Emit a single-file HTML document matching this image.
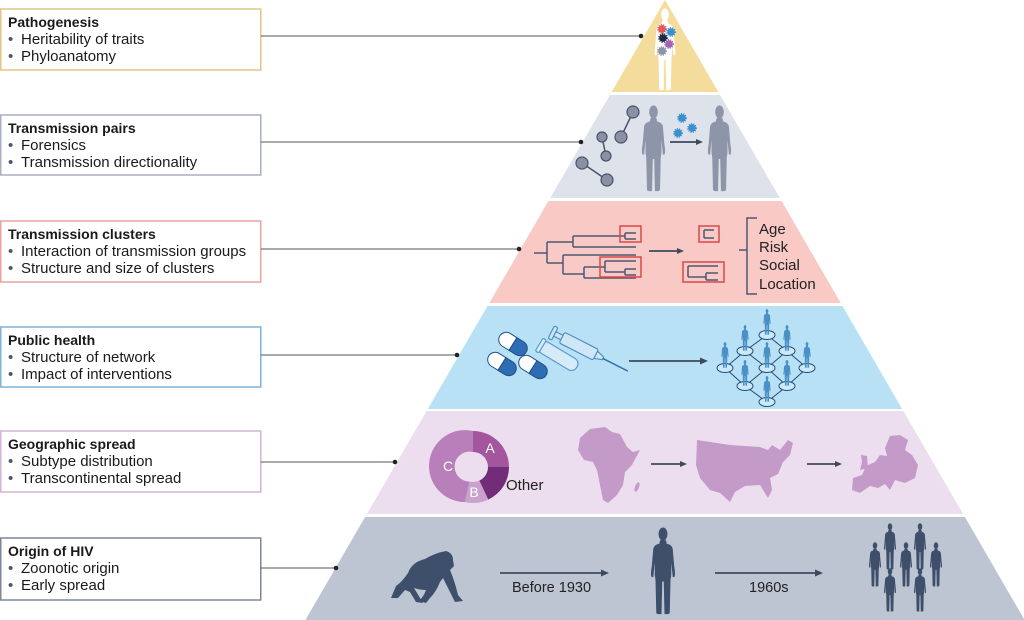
<!DOCTYPE html>
<html><head><meta charset="utf-8"><style>
html,body{margin:0;padding:0;background:#fff;}
svg{display:block;}
text{font-family:"Liberation Sans",Arial,sans-serif;}
</style></head><body>
<svg width="1024" height="620" viewBox="0 0 1024 620" xmlns="http://www.w3.org/2000/svg">
<defs>
<symbol id="p" viewBox="0 0 40 100" preserveAspectRatio="none">
<ellipse cx="20" cy="8" rx="6" ry="7.5"/>
<path d="M16 15 L24 15 L25 19 Q32 20 33 25 L35 45 Q37 55 35 57 L33 57 L31 40 L31 55 L30 60 L29 97 Q29 99 26 99 L22 99 L21 62 L19 62 L18 99 L14 99 Q11 99 11 97 L10 60 L9 55 L9 40 L7 57 L5 57 Q3 55 5 45 L7 25 Q8 20 15 19 Z"/>
</symbol>
</defs>

<!-- Boxes -->
<g font-size="15" fill="#1a1a1a">
<rect x="0.75" y="9" width="260" height="61" fill="#fff" stroke="#e2c585" stroke-width="1.5"/>
<text x="8" y="27" font-weight="bold" font-size="14">Pathogenesis</text>
<text x="8" y="44"><tspan fill="#4a5670">•</tspan><tspan x="21">Heritability of traits</tspan></text>
<text x="8" y="61"><tspan fill="#4a5670">•</tspan><tspan x="21">Phyloanatomy</tspan></text>

<rect x="0.75" y="115" width="260" height="60" fill="#fff" stroke="#a9afc2" stroke-width="1.5"/>
<text x="8" y="133" font-weight="bold" font-size="14">Transmission pairs</text>
<text x="8" y="150"><tspan fill="#4a5670">•</tspan><tspan x="21">Forensics</tspan></text>
<text x="8" y="167"><tspan fill="#4a5670">•</tspan><tspan x="21">Transmission directionality</tspan></text>

<rect x="0.75" y="221" width="260" height="61" fill="#fff" stroke="#e8a3a3" stroke-width="1.5"/>
<text x="8" y="239" font-weight="bold" font-size="14">Transmission clusters</text>
<text x="8" y="256"><tspan fill="#4a5670">•</tspan><tspan x="21">Interaction of transmission groups</tspan></text>
<text x="8" y="273"><tspan fill="#4a5670">•</tspan><tspan x="21">Structure and size of clusters</tspan></text>

<rect x="0.75" y="327" width="260" height="60" fill="#fff" stroke="#7fb3d9" stroke-width="1.5"/>
<text x="8" y="345" font-weight="bold" font-size="14">Public health</text>
<text x="8" y="362"><tspan fill="#4a5670">•</tspan><tspan x="21">Structure of network</tspan></text>
<text x="8" y="379"><tspan fill="#4a5670">•</tspan><tspan x="21">Impact of interventions</tspan></text>

<rect x="0.75" y="431" width="260" height="61" fill="#fff" stroke="#d3b2d6" stroke-width="1.5"/>
<text x="8" y="449" font-weight="bold" font-size="14">Geographic spread</text>
<text x="8" y="466"><tspan fill="#4a5670">•</tspan><tspan x="21">Subtype distribution</tspan></text>
<text x="8" y="483"><tspan fill="#4a5670">•</tspan><tspan x="21">Transcontinental spread</tspan></text>

<rect x="0.75" y="538" width="260" height="62" fill="#fff" stroke="#7d879a" stroke-width="1.5"/>
<text x="8" y="556" font-weight="bold" font-size="14">Origin of HIV</text>
<text x="8" y="573"><tspan fill="#4a5670">•</tspan><tspan x="21">Zoonotic origin</tspan></text>
<text x="8" y="590"><tspan fill="#4a5670">•</tspan><tspan x="21">Early spread</tspan></text>
</g>

<!-- Pyramid layers -->
<polygon points="665,0 718.4,92 611.6,92" fill="#f3dc9c"/>
<polygon points="609.9,95 720.1,95 779.8,198 550.2,198" fill="#dee2eb"/>
<polygon points="548.4,201 781.6,201 840.7,303 489.3,303" fill="#f8c9c5"/>
<polygon points="487.5,306 842.5,306 902.2,409 427.8,409" fill="#b9e1f6"/>
<polygon points="426.6,411 903.4,411 963.1,514 366.9,514" fill="#ecdeee"/>
<polygon points="365.1,517 964.9,517 1024.6,620 305.4,620" fill="#bdc5d2"/>

<!-- Connectors -->
<g stroke="#555" stroke-width="1">
<line x1="261" y1="36" x2="641" y2="36"/>
<line x1="261" y1="142" x2="581" y2="142"/>
<line x1="261" y1="249" x2="519" y2="249"/>
<line x1="261" y1="355" x2="457" y2="355"/>
<line x1="261" y1="462" x2="395" y2="462"/>
<line x1="261" y1="568" x2="336" y2="568"/>
</g>
<g fill="#222">
<circle cx="641" cy="36" r="2.3"/>
<circle cx="581" cy="142" r="2.3"/>
<circle cx="519" cy="249" r="2.3"/>
<circle cx="457" cy="355" r="2.3"/>
<circle cx="395" cy="462" r="2.3"/>
<circle cx="336" cy="568" r="2.3"/>
</g>

<!-- L1: pathogenesis -->
<use href="#p" x="652" y="8" width="26" height="83" fill="#fff"/>
<g stroke-width="2.2" stroke-dasharray="1 1.1">
<circle cx="662" cy="29" r="3.8" fill="#e05a5a" stroke="#e05a5a"/>
<circle cx="671" cy="32" r="3.8" fill="#3a8fd0" stroke="#3a8fd0"/>
<circle cx="663" cy="38" r="3.8" fill="#1f2a44" stroke="#1f2a44"/>
<circle cx="669" cy="44" r="3.8" fill="#a066b0" stroke="#a066b0"/>
<circle cx="662" cy="51" r="3.8" fill="#8a93a8" stroke="#8a93a8"/>
</g>

<!-- L2: transmission pairs -->
<g stroke="#4a5268" stroke-width="1.5">
<line x1="633" y1="112" x2="621" y2="137"/>
<line x1="602" y1="137" x2="606" y2="156"/>
<line x1="582" y1="163" x2="607" y2="180"/>
</g>
<g fill="#8a91a5" stroke="#4a5268" stroke-width="1.2">
<circle cx="633" cy="112" r="6"/>
<circle cx="621" cy="137" r="6"/>
<circle cx="602" cy="137" r="5"/>
<circle cx="606" cy="156" r="5"/>
<circle cx="582" cy="163" r="6"/>
<circle cx="607" cy="180" r="6"/>
</g>
<use href="#p" x="639" y="105" width="29" height="87" fill="#8e95a8"/>
<use href="#p" x="705" y="105" width="29" height="87" fill="#8e95a8"/>
<line x1="670" y1="142" x2="697" y2="142" stroke="#3d4a5e" stroke-width="1.8"/>
<polygon points="703,142 696,139 696,145" fill="#3d4a5e"/>
<g stroke-width="2.2" stroke-dasharray="1 1.1" fill="#3a8fd0" stroke="#3a8fd0">
<circle cx="682" cy="118" r="3.8"/>
<circle cx="692" cy="128" r="3.8"/>
<circle cx="678" cy="133" r="3.8"/>
</g>

<!-- L3: clusters -->
<g stroke="#4b5872" stroke-width="1.5" fill="none">
<path d="M534 253 H547 M547 242 V263 M547 242 H573 M573 236 V247 M573 236 H625 M573 247 H636 M625 233 V239 M625 233 H636 M625 239 H636
M547 263 H563 M563 255 V274 M563 255 H636 M563 274 H584 M584 267 V278 M584 278 H636 M584 267 H605 M605 261 V272 M605 261 H636 M605 272 H625 M625 269 V275 M625 269 H636 M625 275 H636"/>
<path d="M704 230 V238 M704 230 H714 M704 238 H714"/>
<path d="M688 266 V277 M688 266 H718 M688 277 H706 M706 273 V280 M706 273 H718 M706 280 H718"/>
<path d="M757 218 H747 V294 H757 M739 250 H747"/>
</g>
<g stroke="#d94a4a" stroke-width="1.5" fill="none">
<rect x="620" y="226" width="21" height="16"/>
<rect x="600" y="257" width="41" height="20"/>
<rect x="699" y="226" width="20" height="16"/>
<rect x="683" y="262" width="41" height="20"/>
</g>
<line x1="649" y1="251" x2="678" y2="251" stroke="#3d4a5e" stroke-width="1.8"/>
<polygon points="684,251 677,248 677,254" fill="#3d4a5e"/>
<g font-size="15" fill="#222">
<text x="759" y="234">Age</text>
<text x="759" y="252">Risk</text>
<text x="759" y="270">Social</text>
<text x="759" y="289">Location</text>
</g>

<!-- L4: public health -->
<g stroke="#1e4f8a" stroke-width="1">
<g transform="translate(513,344) rotate(32)">
<path d="M0 -7.5 L-8 -7.5 A7.5 7.5 0 0 0 -8 7.5 L0 7.5 Z" fill="#fff"/>
<path d="M0 -7.5 L8 -7.5 A7.5 7.5 0 0 1 8 7.5 L0 7.5 Z" fill="#2e6db4"/>
</g>
<g transform="translate(502,364) rotate(32)">
<path d="M0 -7.5 L-8 -7.5 A7.5 7.5 0 0 0 -8 7.5 L0 7.5 Z" fill="#fff"/>
<path d="M0 -7.5 L8 -7.5 A7.5 7.5 0 0 1 8 7.5 L0 7.5 Z" fill="#2e6db4"/>
</g>
<g transform="translate(533,367) rotate(32)">
<path d="M0 -7.5 L-8 -7.5 A7.5 7.5 0 0 0 -8 7.5 L0 7.5 Z" fill="#fff"/>
<path d="M0 -7.5 L8 -7.5 A7.5 7.5 0 0 1 8 7.5 L0 7.5 Z" fill="#2e6db4"/>
</g>
</g>
<g transform="translate(540,345) rotate(31)" fill="#d5ebf8" stroke="#5a9bd0" stroke-width="1.2">
<rect x="0" y="-6.5" width="43" height="13" rx="6"/>
<rect x="-1" y="-7.5" width="4" height="15" rx="1.5"/>
</g>
<g transform="translate(553,333) rotate(27)" fill="#cfe6f6" stroke="#4f8fc4" stroke-width="1.2">
<rect x="-2" y="-7" width="4" height="14" rx="1.5"/>
<rect x="2" y="-2.5" width="9" height="5"/>
<rect x="10" y="-6" width="38" height="12" rx="2"/>
<path d="M48 -4 L56 -1.5 L56 1.5 L48 4 Z"/>
<line x1="56" y1="0" x2="84" y2="0" stroke="#2f6fb0" stroke-width="1.5"/>
</g>
<line x1="629" y1="361" x2="701" y2="361" stroke="#3d4a5e" stroke-width="1.8"/>
<polygon points="708,361 700,357.5 700,364.5" fill="#3d4a5e"/>
<g stroke="#1f4e79" stroke-width="1" fill="none">
<path d="M767 335 L745 351 L725 368 L745 386 L767 402 L787 386 L807 368 L787 351 Z M745 351 L767 368 L787 351 M745 386 L767 368 L787 386"/>
</g>
<g fill="#cde9f8" stroke="#1f4e79" stroke-width="1">
<ellipse cx="767" cy="335" rx="8" ry="4.5"/>
<ellipse cx="745" cy="351" rx="8" ry="4.5"/>
<ellipse cx="787" cy="351" rx="8" ry="4.5"/>
<ellipse cx="767" cy="368" rx="8" ry="4.5"/>
<ellipse cx="725" cy="368" rx="8" ry="4.5"/>
<ellipse cx="807" cy="368" rx="8" ry="4.5"/>
<ellipse cx="745" cy="386" rx="8" ry="4.5"/>
<ellipse cx="787" cy="386" rx="8" ry="4.5"/>
<ellipse cx="767" cy="402" rx="8" ry="4.5"/>
</g>
<g fill="#4a8fc5">
<use href="#p" x="762.5" y="309" width="9" height="26"/>
<use href="#p" x="740.5" y="325" width="9" height="26"/>
<use href="#p" x="782.5" y="325" width="9" height="26"/>
<use href="#p" x="762.5" y="342" width="9" height="26"/>
<use href="#p" x="720.5" y="342" width="9" height="26"/>
<use href="#p" x="802.5" y="342" width="9" height="26"/>
<use href="#p" x="740.5" y="360" width="9" height="26"/>
<use href="#p" x="782.5" y="360" width="9" height="26"/>
<use href="#p" x="762.5" y="376" width="9" height="26"/>
</g>

<!-- L5: geographic -->
<path d="M473 431 A36 36 0 0 1 509 467 L488 467 A15 15 0 0 0 473 452 Z" fill="#a3559e"/>
<path d="M509 467 A36 36 0 0 1 488.2 499.6 L479.3 480.6 A15 15 0 0 0 488 467 Z" fill="#722c78"/>
<path d="M488.2 499.6 A36 36 0 0 1 464.9 502.1 L469.6 481.6 A15 15 0 0 0 479.3 480.6 Z" fill="#c9a2cc"/>
<path d="M464.9 502.1 A36 36 0 1 1 473 431 L473 452 A15 15 0 1 0 469.6 481.6 Z" fill="#b87fba"/>
<g font-size="14" fill="#fff" text-anchor="middle">
<text x="490" y="453">A</text>
<text x="448" y="471">C</text>
<text x="474" y="497">B</text>
</g>
<text x="506" y="490" font-size="15" fill="#222">Other</text>
<g fill="#c49bc8">
<path d="M590 429 L605 427 L612 432 L620 434 L627 447 L633 452 L640 450 L632 465 L625 472 L623 485 L617 495 L608 503 L603 500 L600 485 L597 470 L593 462 L584 460 L578 450 L580 438 Z"/>
<ellipse cx="637" cy="487" rx="2" ry="5" transform="rotate(20 637 487)"/>
<path d="M697 440 L730 445 L760 447 L768 450 L772 445 L780 450 L788 440 L793 443 L790 455 L783 462 L778 474 L770 478 L772 490 L768 498 L760 485 L745 486 L735 492 L730 502 L720 493 L710 490 L700 478 L696 465 Z"/>
<path d="M890 436 L900 435 L908 440 L905 450 L912 455 L918 465 L915 478 L905 483 L895 480 L890 490 L885 484 L878 488 L870 486 L860 493 L852 490 L853 478 L862 475 L866 466 L875 462 L880 455 L887 456 L885 448 Z"/>
<path d="M861 455 L867 456 L868 468 L860 470 L862 462 Z"/>
</g>
<line x1="651" y1="464" x2="680" y2="464" stroke="#3d4a5e" stroke-width="1.8"/>
<polygon points="687,464 680,461 680,467" fill="#3d4a5e"/>
<line x1="807" y1="464" x2="835" y2="464" stroke="#3d4a5e" stroke-width="1.8"/>
<polygon points="842,464 835,461 835,467" fill="#3d4a5e"/>

<!-- L6: origin -->
<path fill="#3d4f6b" d="M391 598 L396 586 Q402 582 408 573 Q412 562 425 559 Q435 553 446 551 Q453 553 453 560 L454 566 L450 570 Q455 582 458 595 L463 601 L455 602 Q449 590 443 578 L440 582 Q436 592 430 598 L426 603 L419 601 Q424 596 426 590 Q420 590 414 588 L420 598 L423 603 L416 602 L410 592 L405 590 L398 598 Z"/>
<line x1="500" y1="573" x2="602" y2="573" stroke="#3d4a5e" stroke-width="1.8"/>
<polygon points="609,573 601,569.5 601,576.5" fill="#3d4a5e"/>
<line x1="715" y1="573" x2="816" y2="573" stroke="#3d4a5e" stroke-width="1.8"/>
<polygon points="823,573 815,569.5 815,576.5" fill="#3d4a5e"/>
<g font-size="14.5" fill="#222">
<text x="512" y="592">Before 1930</text>
<text x="749" y="592">1960s</text>
</g>
<g fill="#3d4f6b">
<use href="#p" x="648" y="527" width="30" height="88"/>
<use href="#p" x="882.5" y="523" width="15" height="47"/>
<use href="#p" x="912.5" y="523" width="15" height="47"/>
<use href="#p" x="867.5" y="542" width="15" height="45"/>
<use href="#p" x="928.5" y="542" width="15" height="45"/>
<use href="#p" x="898.5" y="542" width="15" height="45"/>
<use href="#p" x="882.5" y="568" width="15" height="44"/>
<use href="#p" x="912.5" y="568" width="15" height="44"/>
</g>
</svg>
</body></html>
